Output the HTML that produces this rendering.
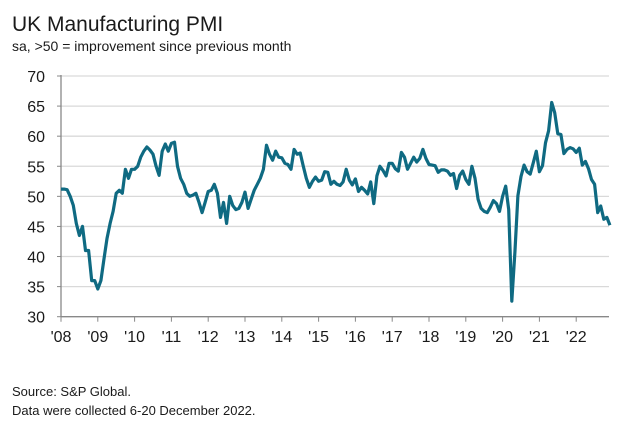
<!DOCTYPE html>
<html><head><meta charset="utf-8"><style>
body{margin:0;background:#fff;}
svg{display:block;font-family:"Liberation Sans",sans-serif;}
</style></head><body>
<svg width="634" height="428">
<text x="12" y="31" font-size="21" fill="#1a1a1a">UK Manufacturing PMI</text>
<text x="12" y="51" font-size="14" fill="#1a1a1a">sa, &gt;50 = improvement since previous month</text>
<g id="grid"></g><g id="axes"></g>
<path id="line" fill="none" stroke="#0f6a82" stroke-width="3.2" stroke-linejoin="round"/>
<text x="12" y="396" font-size="13" fill="#1a1a1a">Source: S&amp;P Global.</text>
<text x="12" y="415" font-size="13" fill="#1a1a1a">Data were collected 6-20 December 2022.</text>
</svg>
<script>
const yTicks=[30,35,40,45,50,55,60,65,70];
const xLabels=["'08","'09","'10","'11","'12","'13","'14","'15","'16","'17","'18","'19","'20","'21","'22"];
const pmi2008=[51.2,51.2,51.1,50,48.5,45.5,43.5,45,41,41,36,36];
const pmi2009=[34.6,36,39.5,43,45.5,47.5,50.5,51,50.5,54.5,53,54.5];
const pmi2010=[54.5,55,56.5,57.5,58.2,57.7,57,55,53.5,57.5,58.7,57.5];
const pmi2011=[58.8,59,55,53,52,50.5,50,50.2,50.5,49,47.3,49];
const pmi2012=[50.8,51,52,50.5,46.5,49,45.5,50,48.5,47.8,48,49];
const pmi2013=[50.7,48,49.5,51,52,53,54.5,58.5,57,56,57.5,56.5];
const pmi2014=[56.4,55.5,55.3,54.5,57.8,57,57.2,55,53,51.5,52.5,53.2];
const pmi2015=[52.5,52.7,54.1,54,52,52.5,52,51.8,52.4,54.5,52.7,51.9];
const pmi2016=[52.9,50.8,51.5,51,50.4,52.4,48.8,53.4,55,54.3,53.4,55.5];
const pmi2017=[55.5,54.6,54.2,57.3,56.5,54.5,55.5,56.5,55.7,56.3,57.8,56.3];
const pmi2018=[55.3,55.2,55.1,54,54.4,54.4,54.2,53.5,53.8,51.3,53.5,54.2];
const pmi2019=[52.8,52,55,53,49.5,48,47.5,47.3,48.2,49.3,48.8,47.5];
const pmi2020=[50,51.7,47.8,32.6,40.7,50.1,53.3,55.2,54.1,53.7,55.6,57.5];
const pmi2021=[54.1,55.1,58.9,60.9,65.6,63.9,60.4,60.3,57.1,57.8,58.1,57.9];
const pmi2022=[57.3,58,55.2,55.8,54.6,52.8,52,47.3,48.4,46.2,46.5,45.2];
const values=[].concat(pmi2008,pmi2009,pmi2010,pmi2011,pmi2012,pmi2013,pmi2014,pmi2015,pmi2016,pmi2017,pmi2018,pmi2019,pmi2020,pmi2021,pmi2022);
const x0=61,yr=36.8,pr=609;
const yS=v=>316.7-(v-30)*(240.7/40);
const xS=m=>x0+m*yr/12;
const NS="http://www.w3.org/2000/svg";
const grid=document.getElementById('grid'),axes=document.getElementById('axes');
function mk(t,a,p){const e=document.createElementNS(NS,t);for(const k in a)e.setAttribute(k,a[k]);p.appendChild(e);return e;}
yTicks.forEach(v=>{
 const y=yS(v);
 if(v>30){const g=mk('line',{x1:x0,x2:pr,y1:y,y2:y,stroke:'#d9d9d9','stroke-width':1.3},grid);
 
 }
 mk('line',{x1:x0-4,x2:x0,y1:y,y2:y,stroke:'#888'},axes);
 const t=mk('text',{x:45,y:y+6,'font-size':16,'text-anchor':'end',fill:'#1a1a1a'},axes);
 t.textContent=v;
 
 
});
mk('line',{x1:x0,x2:x0,y1:yS(70)-1,y2:yS(30),stroke:'#888','stroke-width':1.3},axes);
mk('line',{x1:x0,x2:pr,y1:yS(30),y2:yS(30),stroke:'#888','stroke-width':1.3},axes);
xLabels.forEach((l,i)=>{
 const x=x0+i*yr;
 mk('line',{x1:x,x2:x,y1:yS(30),y2:yS(30)+5,stroke:'#888'},axes);
 const t=mk('text',{x:x,y:342,'font-size':16,'text-anchor':'middle',fill:'#1a1a1a'},axes);
 t.textContent=l;
 
 
});
document.getElementById('line').setAttribute('d',values.map((v,i)=>(i?'L':'M')+xS(i).toFixed(1)+','+yS(v).toFixed(1)).join(''));
</script>
</body></html>
